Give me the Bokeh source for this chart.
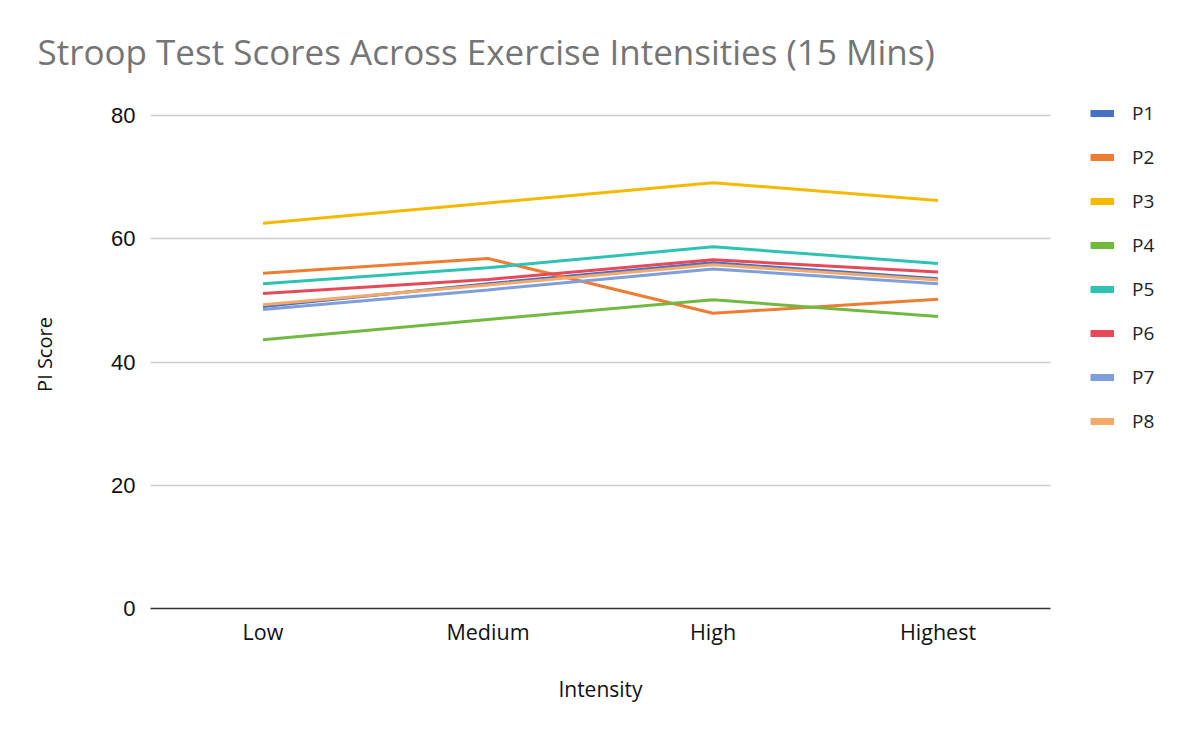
from bokeh.plotting import figure
from bokeh.layouts import row
from bokeh.models import (FactorRange, Range1d, FixedTicker, Legend, LegendItem)
from bokeh.embed import file_html
from bokeh.resources import INLINE

categories = ["Low", "Medium", "High", "Highest"]
series_names = ["P1", "P2", "P3", "P4", "P5", "P6", "P7", "P8"]
P1 = [49.0, 52.7, 56.1, 53.5]
P2 = [54.4, 56.8, 47.9, 50.2]
P3 = [62.5, 65.8, 69.1, 66.2]
P4 = [43.6, 46.9, 50.1, 47.4]
P5 = [52.7, 55.3, 58.7, 56.0]
P6 = [51.1, 53.4, 56.6, 54.6]
P7 = [48.5, 51.7, 55.1, 52.7]
P8 = [49.3, 52.5, 55.8, 53.3]
series_values = [P1, P2, P3, P4, P5, P6, P7, P8]
y_ticks = [0, 20, 40, 60, 80]
title_text = "Stroop Test Scores Across Exercise Intensities (15 Mins)"
x_label = "Intensity"
y_label = "PI Score"

colors = ["#4472C4", "#EE7D31", "#F5BA00", "#72B940", "#2EC2B2",
          "#E6495A", "#7F9FDC", "#F4A86A"]

# frame extends 15px above the top gridline (80) so the legend fits
px_per_unit = 493 / 80.0
y_top = 80 + 15 / px_per_unit

p = figure(width=1080, height=742, output_backend="svg", toolbar_location=None,
           x_range=FactorRange(factors=categories, range_padding=0),
           y_range=Range1d(0, y_top),
           min_border_left=150, min_border_right=30,
           min_border_top=100, min_border_bottom=134)
p.outline_line_color = None
p.background_fill_color = "white"
p.border_fill_color = "white"

# title
p.title.text = title_text
p.title.text_font = "Open Sans"
p.title.text_font_size = "35px"
p.title.text_font_style = "normal"
p.title.text_color = "#757575"
p.title.align = "left"
p.title.offset = -113
p.title.standoff = 51

# grid
p.xgrid.grid_line_color = None
p.ygrid.grid_line_color = "#cccccc"
p.ygrid.grid_line_width = 1.5
p.yaxis.ticker = FixedTicker(ticks=y_ticks)

# y axis
p.yaxis.axis_line_color = None
p.yaxis.major_tick_line_color = None
p.yaxis.minor_tick_line_color = None
p.yaxis.major_tick_in = 0
p.yaxis.major_tick_out = 0
p.yaxis.minor_tick_in = 0
p.yaxis.minor_tick_out = 0
p.yaxis.major_label_standoff = 15
p.yaxis.major_label_text_font = "Liberation Sans"
p.yaxis.major_label_text_font_size = "22px"
p.yaxis.major_label_text_color = "#111111"
p.yaxis.axis_label = y_label
p.yaxis.axis_label_text_font = "Open Sans"
p.yaxis.axis_label_text_font_style = "normal"
p.yaxis.axis_label_text_font_size = "20px"
p.yaxis.axis_label_text_color = "#111111"
p.yaxis.axis_label_standoff = 50

# x axis
p.xaxis.axis_line_color = "#333333"
p.xaxis.axis_line_width = 1.5
p.xaxis.major_tick_line_color = None
p.xaxis.minor_tick_line_color = None
p.xaxis.major_tick_in = 0
p.xaxis.major_tick_out = 0
p.xaxis.major_label_standoff = 8
p.xaxis.major_label_text_font = "Open Sans"
p.xaxis.major_label_text_font_size = "21.5px"
p.xaxis.major_label_text_color = "#111111"
p.xaxis.axis_label = x_label
p.xaxis.axis_label_text_font = "Open Sans"
p.xaxis.axis_label_text_font_style = "normal"
p.xaxis.axis_label_text_font_size = "21px"
p.xaxis.axis_label_text_color = "#111111"
p.xaxis.axis_label_standoff = 26

# lines
for name, vals, c in zip(series_names, series_values, colors):
    p.line(x=categories, y=vals, line_color=c, line_width=3)

# legend panel as a small companion figure
lg = figure(width=120, height=742, output_backend="svg", toolbar_location=None,
            x_range=Range1d(0, 1), y_range=Range1d(0, 1),
            x_axis_location=None, y_axis_location=None,
            min_border_left=0, min_border_right=0,
            min_border_top=0, min_border_bottom=0)
lg.outline_line_color = None
lg.xgrid.visible = False
lg.ygrid.visible = False
lg.border_fill_color = "white"
lg.background_fill_color = "white"

nan = float("nan")
items = []
for name, c in zip(series_names, colors):
    r = lg.line(x=[0, 1], y=[nan, nan], line_color=c, line_width=7)
    items.append(LegendItem(label=name, renderers=[r]))
legend = Legend(items=items, location=(10, 174), padding=0, margin=0,
                spacing=18, glyph_width=24, glyph_height=20, label_height=20,
                label_standoff=18, border_line_color=None,
                background_fill_alpha=0,
                label_text_font="Open Sans", label_text_font_size="19px",
                label_text_color="#222222")
lg.add_layout(legend, "center")

layout = row(p, lg, spacing=0)
open("out.html", "w").write(file_html(layout, INLINE))
